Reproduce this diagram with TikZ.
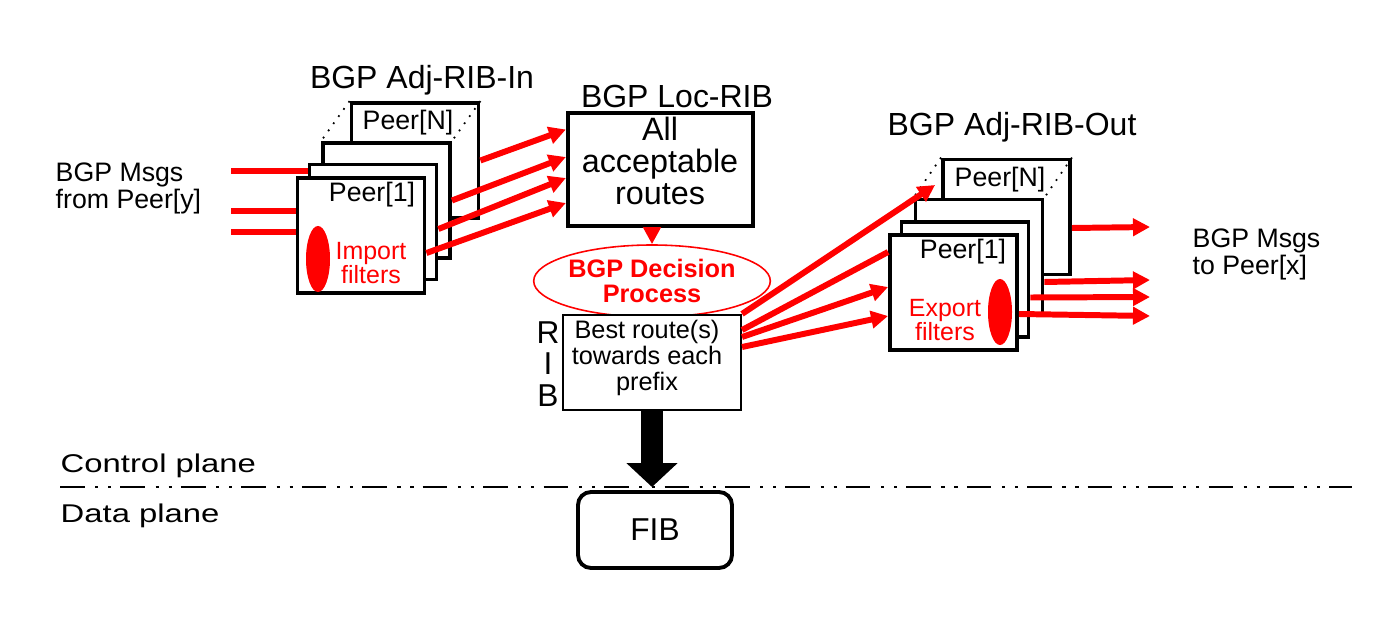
\documentclass[tikz,border=0pt]{standalone}
\usepackage{fontspec}
\setmainfont{Liberation Sans}
\usetikzlibrary{arrows.meta,shapes.geometric,calc}
\tikzset{
  ribpeer/.style={draw=black, line width=1.1pt, fill=white, minimum width=1.27cm, minimum height=1.15cm, inner sep=0pt},
  ribtitle/.style={font=\fontsize{9.1}{9.1}\selectfont, inner sep=0pt},
  ribbig/.style={font=\fontsize{9.2}{9.1}\selectfont, inner sep=0pt, align=center},
  ribmsg/.style={font=\fontsize{7.6}{7.8}\selectfont, inner sep=0pt, align=left},
  ribpeertxt/.style={font=\fontsize{7.6}{7.6}\selectfont, inner sep=0pt},
  ribfilter/.style={font=\fontsize{7.1}{6.7}\selectfont, text=red, inner sep=0pt, align=center},
  ribblob/.style={ellipse, fill=red, draw=none, minimum width=0.24cm, minimum height=0.66cm, inner sep=0pt},
  ribflow/.style={draw=red, line width=1.7pt, -{Triangle[length=0.17cm 0 1, width=0.17cm 0 1]}},
  ribfeed/.style={draw=red, line width=1.7pt},
  ribdots/.style={draw=black, line width=0.5pt, dotted},
  ribplane/.style={font=\fontsize{7.3}{7.3}\selectfont, inner sep=0pt, anchor=north west},
}
\begin{document}
\begin{tikzpicture}
\useasboundingbox (0,0) rectangle (13.74,-6.18);
\node[ribtitle] (intitle) at (4.22,-0.80) {BGP Adj-RIB-In};
\node[ribtitle] (loctitle) at (6.77,-0.965) {BGP Loc-RIB};
\node[ribtitle] (outtitle) at (10.12,-1.27) {BGP Adj-RIB-Out};
\node[ribmsg, anchor=north west] (inmsg) at (0.55,-1.62) {BGP Msgs\\from Peer[y]};
\node[ribmsg, anchor=north west] (outmsg) at (11.92,-2.28) {BGP Msgs\\to Peer[x]};
\coordinate (srcA) at (2.31,-1.71);
\coordinate (srcB) at (2.31,-2.11);
\coordinate (srcC) at (2.31,-2.32);
\coordinate (dstA) at (11.50,-2.27);
\coordinate (dstB) at (11.50,-2.80);
\coordinate (dstC) at (11.50,-2.97);
\coordinate (dstD) at (11.50,-3.16);
\node[ribpeer] (inN) at (4.15,-1.605) {};
\node[ribpeertxt] (inNtxt) at (4.08,-1.23) {Peer[N]};
\node[ribpeer] (in3) at (3.865,-2.005) {};
\draw[ribdots] (inN.north west) -- (in3.north west);
\draw[ribdots] (inN.north east) -- (in3.north east);
\node[ribpeer] (in2) at (3.73,-2.22) {};
\node[ribpeer] (in1) at (3.61,-2.355) {};
\node[ribpeertxt] (in1txt) at (3.72,-1.95) {Peer[1]};
\node[ribblob] (inblob) at (3.18,-2.59) {};
\node[ribfilter] (infilter) at (3.71,-2.63) {Import\\filters};
\node[ribpeer] (outN) at (10.065,-2.17) {};
\node[ribpeertxt] (outNtxt) at (10.00,-1.80) {Peer[N]};
\node[ribpeer] (out3) at (9.79,-2.57) {};
\draw[ribdots] (outN.north west) -- (out3.north west);
\draw[ribdots] (outN.north east) -- (out3.north east);
\node[ribpeer] (out2) at (9.65,-2.795) {};
\node[ribpeer] (out1) at (9.535,-2.925) {};
\node[ribpeertxt] (out1txt) at (9.63,-2.52) {Peer[1]};
\node[ribblob] (outblob) at (10.00,-3.12) {};
\node[ribfilter] (outfilter) at (9.45,-3.20) {Export\\filters};
\node[draw=black, line width=1.2pt, minimum width=1.85cm, minimum height=1.13cm, inner sep=0pt] (loc) at (6.605,-1.695) {};
\node[ribbig] (loctxt) at (6.60,-1.61) {All\\acceptable\\routes};
\node[ellipse, draw=red, line width=0.45pt, minimum width=2.1cm, minimum height=0.72cm, inner sep=0pt, text=red, font=\bfseries\fontsize{7.2}{7.1}\selectfont, align=center] (dec) at (6.52,-2.81) {BGP Decision\\Process};
\node[draw=black, line width=0.6pt, fill=white, minimum width=1.78cm, minimum height=0.95cm, inner sep=0pt] (rib) at (6.52,-3.625) {};
\node[font=\fontsize{7.2}{7.4}\selectfont, inner sep=0pt, align=center] (ribtxt) at (6.47,-3.58) {Best route(s)\\towards each\\prefix};
\node[font=\fontsize{9}{8.9}\selectfont, inner sep=0pt, align=center] (ribtag) at (5.48,-3.64) {R\\I\\B};
\coordinate (cutL) at (0.60,-4.87);
\coordinate (cutR) at (13.52,-4.87);
\draw[line width=0.75pt, dash pattern=on 7pt off 3pt on 0.9pt off 2.8pt on 0.9pt off 2.6pt] (cutL) -- (cutR);
\node[ribplane] (ctrl) at (0.60,-4.53) {\scalebox{1.28}[1]{Control plane}};
\node[ribplane] (data) at (0.60,-5.03) {\scalebox{1.28}[1]{Data plane}};
\node[draw=black, rounded corners=0.13cm, line width=1.1pt, minimum width=1.54cm, minimum height=0.76cm, inner sep=0pt, font=\fontsize{9}{9}\selectfont] (fib) at (6.55,-5.30) {FIB};
\draw[line width=6.5pt, -{Triangle[length=0.24cm 0 1, width=0.50cm 0 1]}] (rib.south) -- (rib.south |- cutL);
\draw[ribfeed] (srcA) -- (in2.west |- srcA);
\draw[ribfeed] (srcB) -- (in1.west |- srcB);
\draw[ribfeed] (srcC) -- (in1.west |- srcC);
\draw[ribflow] (inN.east) -- ($(loc.west)+(0,0.40)$);
\draw[ribflow] (in3.east) -- ($(loc.west)+(0,0.125)$);
\draw[ribflow] ($(in2.east)+(0,-0.07)$) -- ($(loc.west)+(0,-0.085)$);
\draw[ribflow] ($(in1.east)+(0,-0.175)$) -- ($(loc.west)+(0,-0.335)$);
\draw[ribflow] (loc.south -| dec.north) -- (dec.north);
\draw[ribflow] (rib.north east) -- ($(outN.west)+(-0.06,0.32)$);
\draw[ribfeed] ($(rib.east)+(0,0.325)$) -- ($(out1.west)+(0,0.405)$);
\draw[ribflow] ($(rib.east)+(0,0.255)$) -- ($(out1.west)+(0,0.055)$);
\draw[ribflow] ($(rib.east)+(0,0.155)$) -- ($(out1.west)+(0,-0.235)$);
\draw[ribflow] ($(outN.east)+(0,-0.11)$) -- (dstA);
\draw[ribflow] ($(out3.east)+(0,-0.25)$) -- (dstB);
\draw[ribflow] ($(out2.east)+(0,-0.18)$) -- (dstC);
\draw[ribflow] ($(out1.east)+(0,-0.215)$) -- (dstD);
\end{tikzpicture}
\end{document}
